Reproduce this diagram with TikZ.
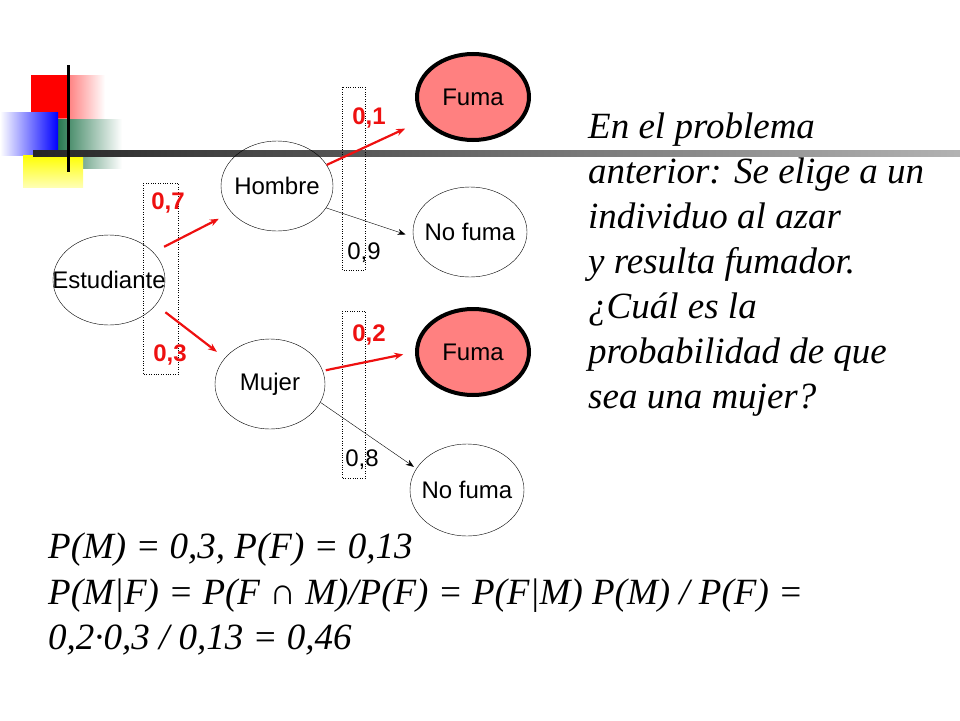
\documentclass[tikz,border=0pt]{standalone}
\usepackage{fontspec}
\setmainfont{Liberation Serif}
\setsansfont{Liberation Sans}
\usetikzlibrary{shapes.geometric,arrows.meta}
\tikzset{
  elip/.style={draw,ellipse,minimum width=112pt,minimum height=90pt,inner sep=0pt},
  elipfuma/.style={elip,fill={rgb,255:red,255;green,128;blue,128},line width=4pt,minimum width=112pt,minimum height=86pt},
  etiq/.style={font=\sffamily\fontsize{24}{24}\selectfont},
  probbox/.style={draw,dotted,thin},
  rojo/.style={draw={rgb,255:red,238;green,16;blue,16},line width=2.2pt,-{Stealth[length=9pt,width=7pt]}},
  negro/.style={draw,thin,-{Stealth[length=8pt,width=6pt]}},
  probrojo/.style={text={rgb,255:red,238;green,16;blue,16},font=\sffamily\bfseries\fontsize{24}{24}\selectfont},
  probnegro/.style={font=\sffamily\fontsize{24}{24}\selectfont}
}
\begin{document}
\begin{tikzpicture}[x=1pt,y=1pt,yscale=-1]
\useasboundingbox (0,0) rectangle (960,720);

% decoracion
\shade[left color=red,right color=white] (31,75) rectangle (105,118);
\fill[red] (31,75) rectangle (68,118);
\shade[left color={rgb,255:red,40;green,120;blue,80},right color=white] (58,119) rectangle (122,168);
\shade[left color=white,right color=blue] (0,112) rectangle (58,155);
\shade[top color=yellow,bottom color=yellow!30] (23,155) rectangle (83,187);
\shade[left color=black!85,right color=black!30] (33,150) rectangle (960,156);
\draw[line width=3pt] (68,65) -- (68,172);

% cajas
\draw[probbox] (143,183) rectangle (178,374);
\draw[probbox] (342,87) rectangle (365,270);
\draw[probbox] (342,311) rectangle (365,478);

% nodos
\node[elip,label={[etiq]center:Estudiante}] (est) at (109,280) {};
\node[elip,label={[etiq]center:Hombre}] (hom) at (277,186) {};
\node[elip,minimum width=110pt,label={[etiq]center:Mujer}] (muj) at (270,384) {};
\node[elipfuma,label={[etiq]center:Fuma}] (hf) at (473,97) {};
\node[elip,minimum width=114pt,label={[etiq]center:No fuma}] (hn) at (470,232) {};
\node[elipfuma,label={[etiq]center:Fuma}] (mf) at (473,352) {};
\node[elip,minimum width=114pt,minimum height=92pt,label={[etiq]center:No fuma}] (mn) at (467,490) {};

% ramas
\draw[rojo,shorten <=12pt,shorten >=14pt] (est.32) -- (hom.210);
\draw[rojo,shorten <=12pt,shorten >=10pt] (est.-28) -- (muj.150);
\draw[rojo,shorten >=20pt] (hom.23) -- (hf.205);
\draw[negro,shorten >=8pt] (hom.-24) -- (hn.185);
\draw[rojo,shorten <=3pt,shorten >=12pt] (muj.14) -- (mf.west);
\draw[negro,shorten >=3pt] (muj.-20) -- (mn.157);

% probabilidades
\node[probrojo] (p7) at (168,203) {0,7};
\node[probrojo] (p3) at (170,355) {0,3};
\node[probrojo] (p1) at (369,118) {0,1};
\node[probnegro] (p9) at (364,253) {0,9};
\node[probrojo] (p2) at (369,335) {0,2};
\node[probnegro] (p8) at (362,460) {0,8};

% texto
\node[anchor=north west,align=left,inner sep=0pt,font=\itshape\fontsize{37}{45}\selectfont] (enun) at (588,113)
  {En el problema\\anterior: Se elige a un\\individuo al azar\\y resulta fumador.\\¿Cuál es la\\probabilidad de que\\sea una mujer?};
\node[anchor=north west,align=left,inner sep=0pt,font=\itshape\fontsize{37}{45.5}\selectfont] (sol) at (48,533)
  {P(M) = 0,3, P(F) = 0,13\\P(M|F) = P(F ∩ M)/P(F) = P(F|M) P(M) / P(F) =\\0,2·0,3 / 0,13 = 0,46};
\end{tikzpicture}
\end{document}
